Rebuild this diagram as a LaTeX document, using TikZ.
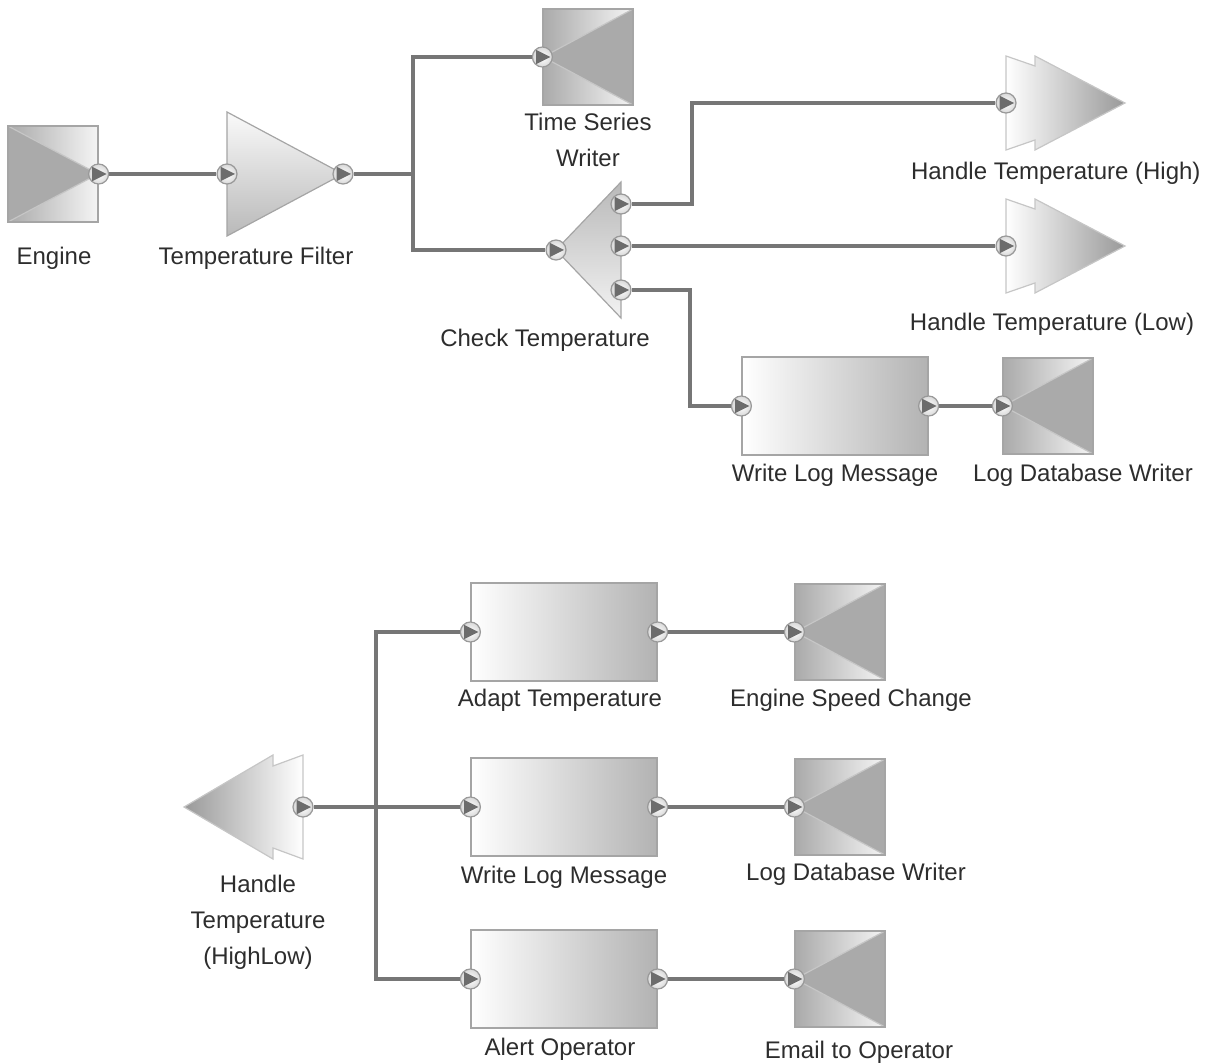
\documentclass[tikz,border=0pt]{standalone}
\usepackage{fontspec}
\setmainfont{Liberation Sans}
\usepackage{tikz}

\definecolor{wiregray}{RGB}{118,118,118}
\definecolor{edgegray}{RGB}{165,165,165}
\definecolor{iogray}{RGB}{170,170,170}
\definecolor{arrowgray}{RGB}{108,108,108}
\definecolor{txtgray}{RGB}{45,45,45}

\begin{document}
\begin{tikzpicture}[x=0.5pt, y=-0.5pt]

\tikzstyle{every node} = [font=\fontsize{12}{18}\selectfont, text=txtgray, align=center]
\tikzstyle{port} = [circle, draw=gray!80, line width=0.6pt, inner sep=0pt, minimum size=10pt,
  inner color=white, outer color=gray!30,
  path picture={\fill[arrowgray, shift={(path picture bounding box.center)}]
    (-3.2pt,-3.6pt) -- (4pt,0pt) -- (-3.2pt,3.6pt) -- cycle;}]
\tikzstyle{iobox} = [rectangle, draw=edgegray, line width=0.6pt, inner sep=0pt,
  minimum width=45pt, minimum height=48pt, left color=iogray, right color=gray!8]
\tikzstyle{source} = [iobox, path picture={
  \fill[iogray] (path picture bounding box.north west) -- (path picture bounding box.east)
    -- (path picture bounding box.south west) -- cycle;
  \draw[gray!45, line width=0.6pt] (path picture bounding box.north west)
    -- (path picture bounding box.east) -- (path picture bounding box.south west);}]
\tikzstyle{sink} = [iobox, path picture={
  \fill[iogray] (path picture bounding box.north east) -- (path picture bounding box.west)
    -- (path picture bounding box.south east) -- cycle;
  \draw[gray!45, line width=0.6pt] (path picture bounding box.north east)
    -- (path picture bounding box.west) -- (path picture bounding box.south east);}]
\tikzstyle{fbox} = [rectangle, draw=edgegray, line width=0.6pt, inner sep=0pt,
  minimum width=93pt, minimum height=49pt, left color=white, right color=gray!60]
\tikzstyle{wire} = [draw=wiregray, line width=1.7pt]

\useasboundingbox (0,0) rectangle (1217,1064);

% upper flow
\node[source] (engine) at (53,174) {};
\shade[top color=gray!4, bottom color=gray!55, draw=edgegray, line width=0.6pt]
  (227,112) -- (343,174) -- (227,236) -- cycle;
\node[sink] (tsw) at (588,57) {};
\shade[top color=gray!55, bottom color=gray!10, draw=edgegray, line width=0.6pt]
  (621,182) -- (556,250) -- (621,318) -- cycle;
\shade[left color=white, right color=gray!80, draw=gray!45, line width=0.6pt]
  (1006,56) -- (1035,66) -- (1035,56) -- (1125,103) -- (1035,150) -- (1035,140) -- (1006,150) -- cycle;
\shade[left color=white, right color=gray!80, draw=gray!45, line width=0.6pt]
  (1006,199) -- (1035,209) -- (1035,199) -- (1125,246) -- (1035,293) -- (1035,283) -- (1006,293) -- cycle;
\node[fbox] (wlog) at (835,406) {};
\node[sink] (ldb) at (1048,406) {};

\node[port] (engout) at (engine.east) {};
\node[port] (tfin) at (227,174) {};
\node[port] (tfout) at (343,174) {};
\node[port] (tswin) at (tsw.west) {};
\node[port] (ctin) at (556,250) {};
\node[port] (ctouta) at (621,204) {};
\node[port] (ctoutb) at (621,246) {};
\node[port] (ctoutc) at (621,290) {};
\node[port] (hhin) at (1006,103) {};
\node[port] (hlin) at (1006,246) {};
\node[port] (wlin) at (wlog.west) {};
\node[port] (wlout) at (wlog.east) {};
\node[port] (ldin) at (ldb.west) {};

\node (englbl) at (54,258) {Engine};
\node (tflbl) at (256,258) {Temperature Filter};
\node (tswlbl) at (588,140) {Time Series\\Writer};
\node (ctlbl) at (545,340) {Check Temperature};
\node[anchor=west] (hhlbl) at (904,173) {Handle Temperature (High)};
\node (hllbl) at (1052,324) {Handle Temperature (Low)};
\node (wllbl) at (835,475) {Write Log Message};
\node (ldlbl) at (1083,475) {Log Database Writer};

\coordinate (split) at (413,174);
\coordinate (bendhi) at (692,0);
\coordinate (bendlog) at (690,0);

\draw[wire] (engout) -- (tfin);
\draw[wire] (tfout) -- (split) |- (tswin);
\draw[wire] (split) |- (ctin);
\draw[wire] (ctouta) -- (ctouta -| bendhi) |- (hhin);
\draw[wire] (ctoutb) -- (hlin);
\draw[wire] (ctoutc) -- (ctoutc -| bendlog) |- (wlin);
\draw[wire] (wlout) -- (ldin);

% lower flow
\shade[left color=gray!80, right color=white, draw=gray!45, line width=0.6pt]
  (303,755) -- (273,766) -- (273,755) -- (184,807) -- (273,859) -- (273,848) -- (303,859) -- cycle;
\node[fbox] (adapt) at (564,632) {};
\node[sink] (esc) at (840,632) {};
\node[fbox] (wlogb) at (564,807) {};
\node[sink] (ldbb) at (840,807) {};
\node[fbox] (alert) at (564,979) {};
\node[sink] (email) at (840,979) {};

\node[port] (hlout) at (303,807) {};
\node[port] (atin) at (adapt.west) {};
\node[port] (atout) at (adapt.east) {};
\node[port] (escin) at (esc.west) {};
\node[port] (wlbin) at (wlogb.west) {};
\node[port] (wlbout) at (wlogb.east) {};
\node[port] (ldbin) at (ldbb.west) {};
\node[port] (aoin) at (alert.west) {};
\node[port] (aoout) at (alert.east) {};
\node[port] (emin) at (email.west) {};

\node (hllbl2) at (258,922) {Handle\\Temperature\\(HighLow)};
\node (atlbl) at (560,700) {Adapt Temperature};
\node (esclbl) at (851,700) {Engine Speed Change};
\node (wlblbl) at (564,877) {Write Log Message};
\node (ldblbl) at (856,874) {Log Database Writer};
\node (aolbl) at (560,1049) {Alert Operator};
\node (emlbl) at (859,1052) {Email to Operator};

\coordinate (fork) at (376,807);

\draw[wire] (hlout) -- (fork) |- (atin);
\draw[wire] (fork) -- (wlbin);
\draw[wire] (fork) |- (aoin);
\draw[wire] (atout) -- (escin);
\draw[wire] (wlbout) -- (ldbin);
\draw[wire] (aoout) -- (emin);

\end{tikzpicture}
\end{document}
